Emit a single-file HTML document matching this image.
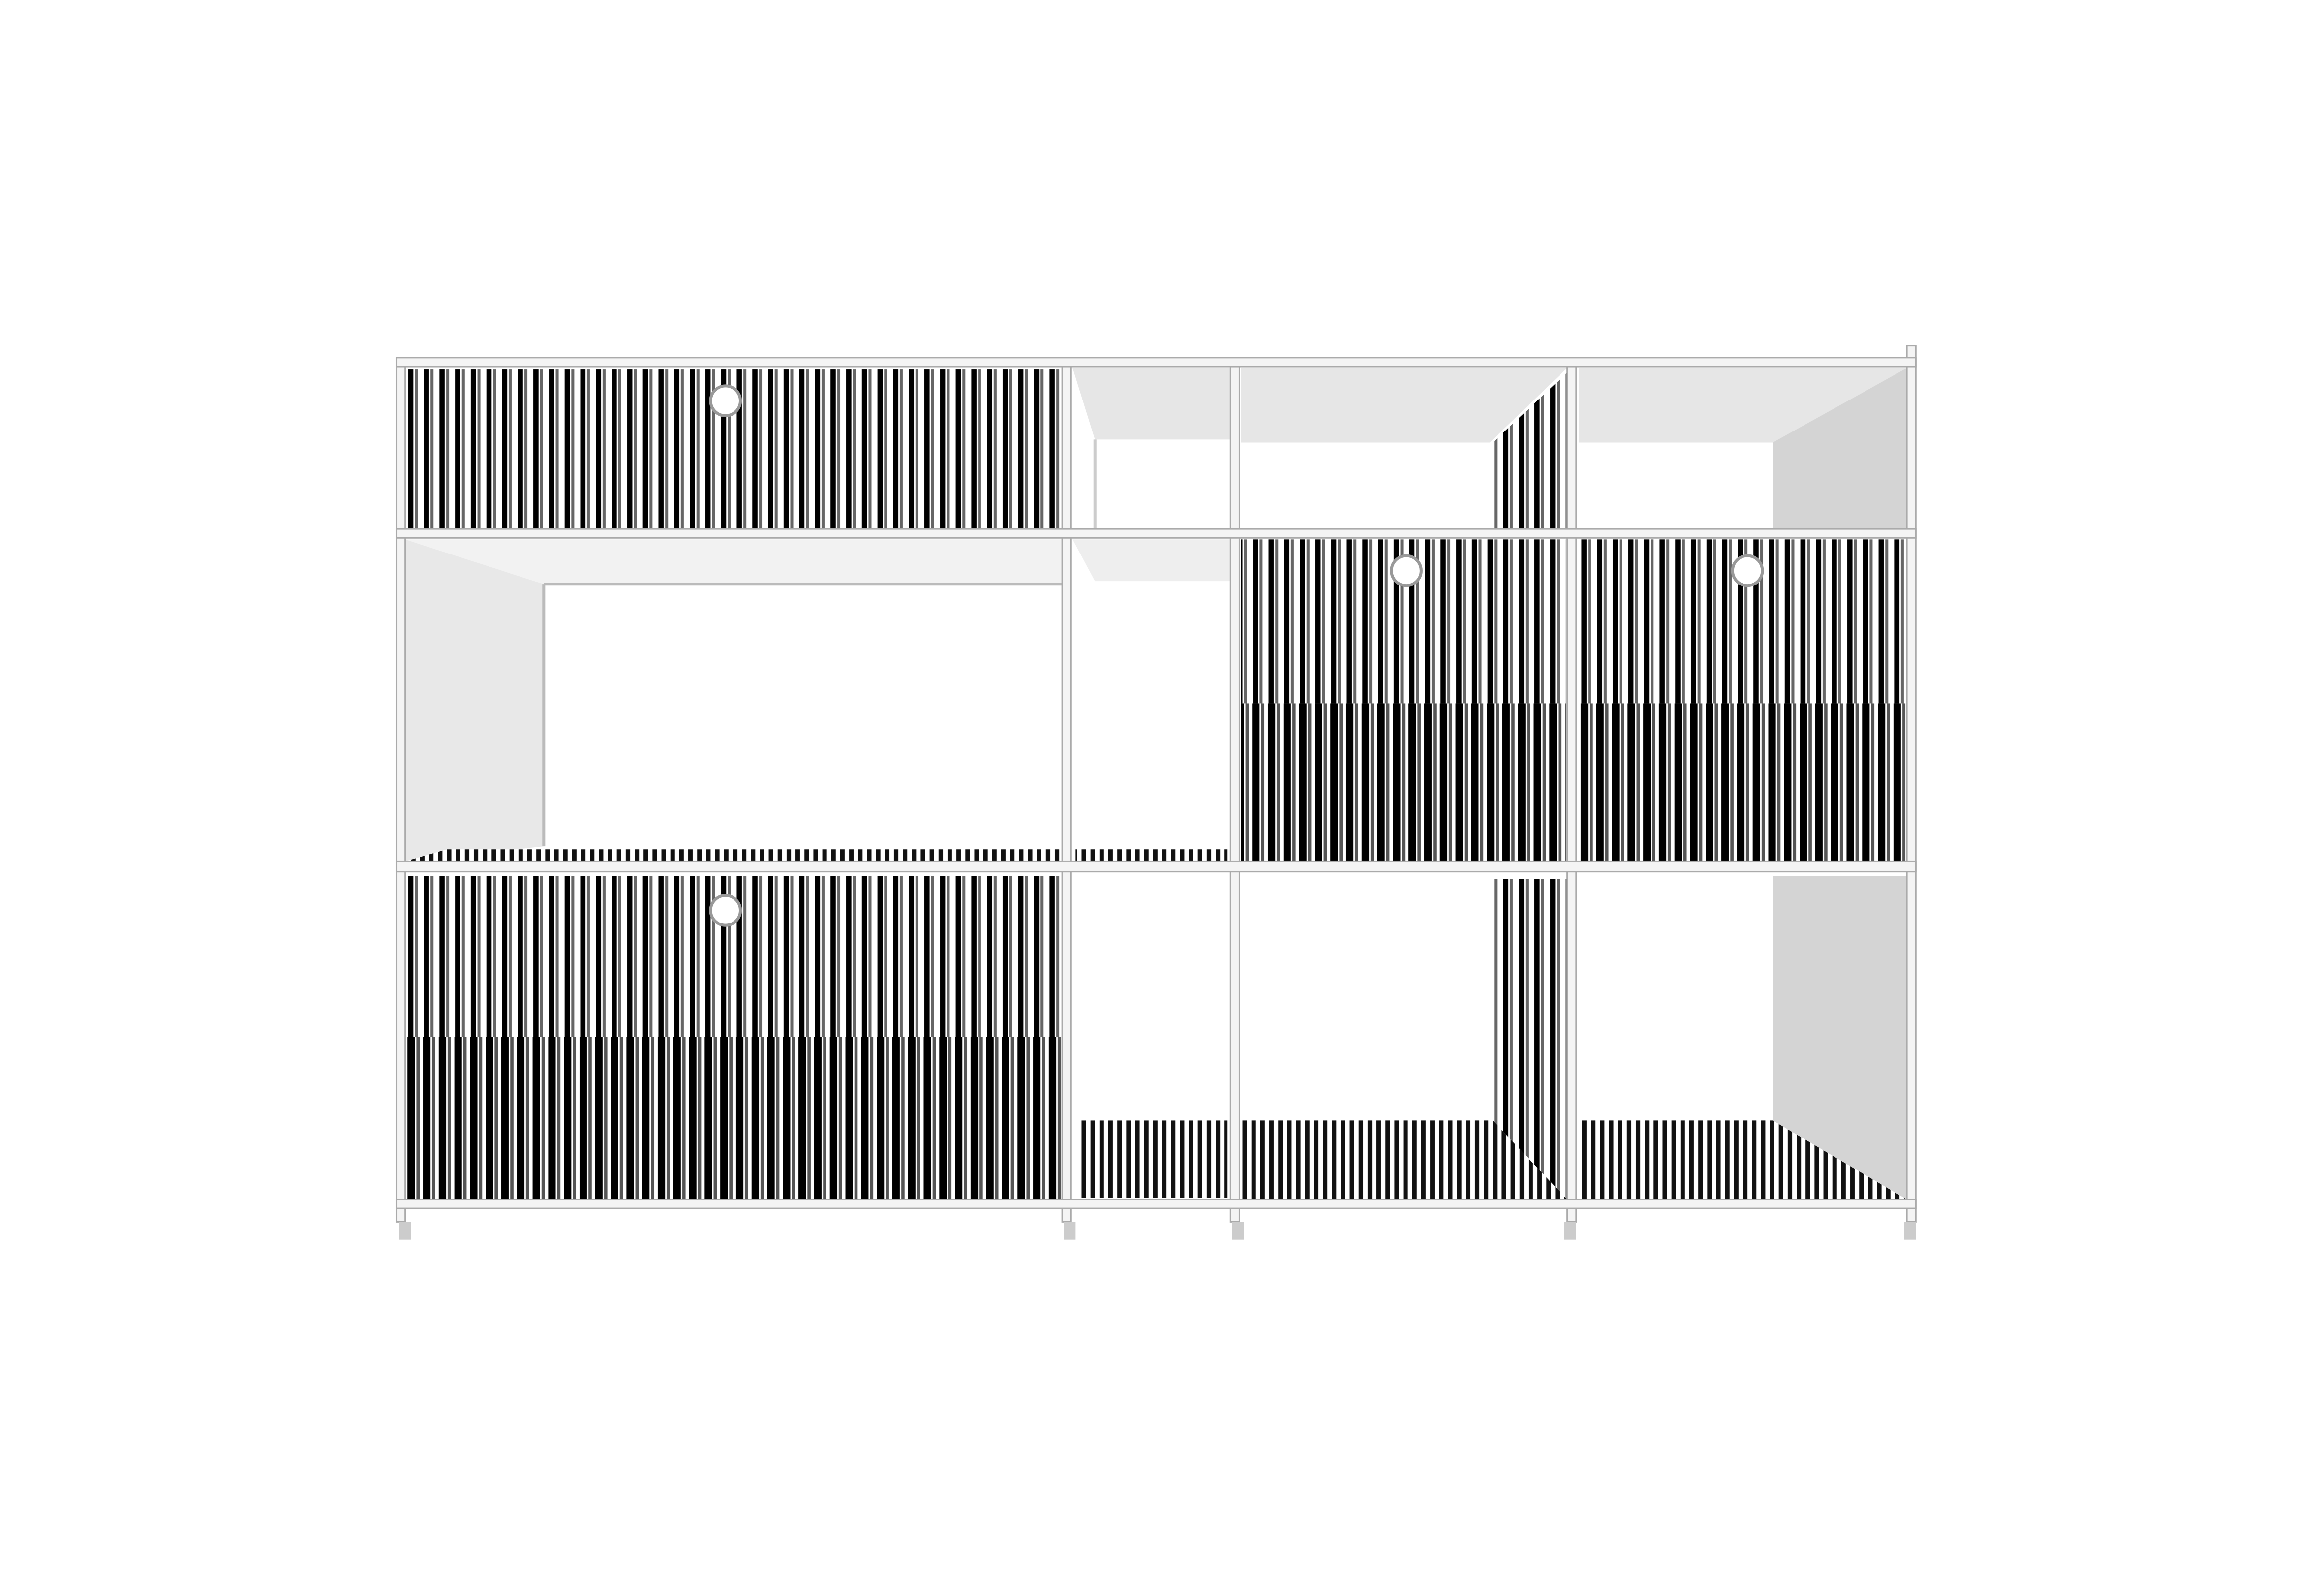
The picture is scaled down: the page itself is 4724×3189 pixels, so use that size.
<!DOCTYPE html>
<html><head><meta charset="utf-8"><style>html,body{margin:0;padding:0;background:#fff}svg{display:block}</style></head>
<body>
<svg width="4724" height="3189" viewBox="0 0 1560 1053" preserveAspectRatio="none" xmlns="http://www.w3.org/2000/svg">
<defs>
<pattern id="st" width="10.5" height="20" patternUnits="userSpaceOnUse">
<rect width="10.5" height="20" fill="#fff"/><rect x="1" width="3.5" height="20" fill="#000"/><rect x="5.5" width="2" height="20" fill="#666"/>
</pattern>
<pattern id="sd" width="10.5" height="20" patternUnits="userSpaceOnUse">
<rect width="10.5" height="20" fill="#fff"/><rect x="0.5" width="5" height="20" fill="#000"/><rect x="6.5" width="2.2" height="20" fill="#555"/>
</pattern>
<pattern id="gr" width="6" height="10" patternUnits="userSpaceOnUse">
<rect width="6" height="10" fill="#fff"/><rect x="0" width="3" height="10" fill="#111"/>
</pattern>
</defs>
<rect width="1560" height="1053" fill="#fff"/>
<!-- left section -->
<rect x="273" y="248" width="440" height="108" fill="url(#st)"/>
<polygon points="272,362 365,392 365,568 272,578" fill="#e8e8e8"/>
<polygon points="272,362 713,362 713,392 365,392" fill="#f2f2f2"/>
<line x1="365" y1="392" x2="713" y2="392" stroke="#bbb" stroke-width="2"/>
<line x1="365" y1="392" x2="365" y2="568" stroke="#bbb" stroke-width="2"/>
<polygon points="272,578 713,578 713,570 300,570" fill="url(#gr)"/>
<rect x="273" y="588" width="440" height="108" fill="url(#st)"/>
<rect x="273" y="696" width="440" height="110" fill="url(#sd)"/>
<circle cx="487" cy="269" r="10" fill="#fff" stroke="#999" stroke-width="2"/>
<circle cx="487" cy="611" r="10" fill="#fff" stroke="#999" stroke-width="2"/>
<!-- column 2 -->
<polygon points="720,247 826,247 826,295 735,295" fill="#e6e6e6"/>
<line x1="735" y1="295" x2="735" y2="355" stroke="#ccc" stroke-width="2"/>
<polygon points="720,362 826,362 826,390 735,390" fill="#eee"/>
<rect x="722" y="570" width="102" height="9" fill="url(#gr)"/>
<rect x="724" y="752" width="100" height="52" fill="url(#gr)"/>
<!-- column 3 -->
<polygon points="833,247 1052,247 1000,297 833,297" fill="#e6e6e6"/>
<polygon points="1002,297 1052,250 1052,355 1002,355" fill="url(#st)"/>
<rect x="833" y="362" width="218" height="110" fill="url(#st)"/>
<rect x="833" y="472" width="218" height="108" fill="url(#sd)"/>
<circle cx="944" cy="383" r="10" fill="#fff" stroke="#999" stroke-width="2"/>
<polygon points="1002,590 1052,590 1052,805 1002,752" fill="url(#st)"/>
<polygon points="833,752 1002,752 1052,805 833,805" fill="url(#gr)"/>
<!-- column 4 -->
<polygon points="1060,247 1280,247 1230,297 1060,297" fill="#e6e6e6"/>
<polygon points="1190,297 1280,247 1280,355 1190,355" fill="#d4d4d4"/>
<rect x="1060" y="362" width="219" height="110" fill="url(#st)"/>
<rect x="1060" y="472" width="219" height="108" fill="url(#sd)"/>
<circle cx="1173" cy="383" r="10" fill="#fff" stroke="#999" stroke-width="2"/>
<polygon points="1190,588 1280,588 1280,805 1190,752" fill="#d4d4d4"/>
<polygon points="1060,752 1190,752 1280,805 1060,805" fill="url(#gr)"/>
<!-- frame -->
<g fill="#f4f4f4" stroke="#aaa" stroke-width="1">
<rect x="266" y="240" width="6" height="580"/>
<rect x="713" y="240" width="6" height="580"/>
<rect x="826" y="240" width="6" height="580"/>
<rect x="1052" y="240" width="6" height="580"/>
<rect x="1280" y="232" width="6" height="588"/>
<rect x="266" y="240" width="1020" height="6"/>
<rect x="266" y="355" width="1020" height="6"/>
<rect x="266" y="578" width="1020" height="7"/>
<rect x="266" y="805" width="1020" height="6"/>
</g>
<g fill="#ccc"><rect x="268" y="820" width="8" height="12"/><rect x="714" y="820" width="8" height="12"/><rect x="827" y="820" width="8" height="12"/><rect x="1050" y="820" width="8" height="12"/><rect x="1278" y="820" width="8" height="12"/></g>
</svg>
</body></html>
